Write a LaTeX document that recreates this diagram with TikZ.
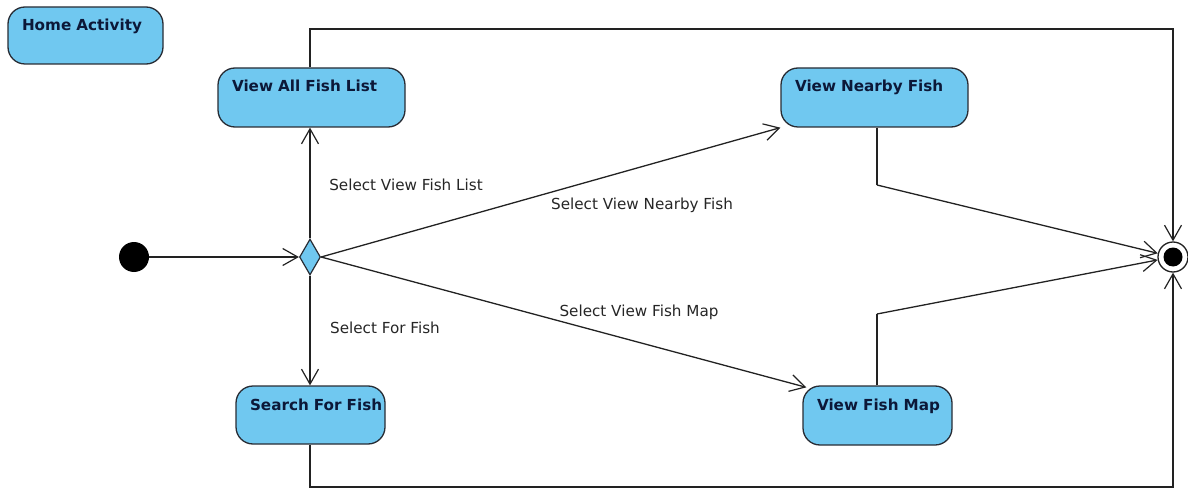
\documentclass[tikz,border=0pt]{standalone}
\usepackage{fontspec}
\setmainfont{DejaVu Sans}
\usetikzlibrary{shapes.geometric,arrows.meta}
\definecolor{actfill}{RGB}{112,200,240}
\definecolor{actline}{RGB}{40,44,52}
\definecolor{acttext}{RGB}{12,24,56}
\definecolor{wire}{RGB}{34,34,34}
\tikzset{
  activity/.style={rectangle, rounded corners=17pt, draw=actline, fill=actfill,
    line width=1.3pt, inner xsep=14pt, inner ysep=0pt, align=left,
    text=acttext, font=\bfseries\fontsize{15.2}{18}\selectfont, text height=24pt},
  flow/.style={draw=wire, line width=1.3pt,
    -{Straight Barb[length=15pt,width=17pt,line width=1.2pt]}},
  wire/.style={draw=wire, line width=1.3pt},
  guard/.style={font=\fontsize{15.2}{17}\selectfont, text=black!85, inner sep=0pt},
}
\begin{document}
\begin{tikzpicture}[x=1pt,y=-1pt]
\useasboundingbox (0,0) rectangle (1188,489);

% activities
\node[activity, text width=127pt, minimum height=57pt, text depth=33pt] (home)   at (85.5,35.5) {\mbox{Home Activity}};
\node[activity, text width=159pt, minimum height=59pt, text depth=35pt] (viewall) at (311.5,97.5) {\mbox{View All Fish List}};
\node[activity, text width=159pt, minimum height=59pt, text depth=35pt] (nearby)  at (874.5,97.5) {\mbox{View Nearby Fish}};
\node[activity, text width=121pt, minimum height=58pt, text depth=34pt] (search)  at (310.5,415) {\mbox{Search For Fish}};
\node[activity, text width=121pt, minimum height=59pt, text depth=35pt] (map)     at (877.5,415.5) {\mbox{View Fish Map}};

% initial, decision and final nodes
\node[circle, fill=black, minimum size=30pt, inner sep=0pt] (start) at (134,257) {};
\node[diamond, draw=actline, fill=actfill, line width=1.2pt, minimum width=21pt,
      minimum height=36pt, inner sep=0pt] (dec) at (310,257) {};
\node[circle, draw=wire, fill=white, line width=1.3pt, minimum size=30pt, inner sep=0pt,
      path picture={\fill[black] (path picture bounding box.center) circle (9.5pt);}] (final) at (1173,257) {};

% routing points
\coordinate (top) at (0,29);
\coordinate (bot) at (0,487);
\coordinate (kneeA) at (877,185);
\coordinate (kneeB) at (877,314);

% control flow
\draw[flow] (start) -- (dec.west);
\draw[flow] (dec.north) -- (dec.north |- viewall.south);
\draw[flow] (dec.south) -- (dec.south |- search.north);
\draw[flow] (dec.east) -- (nearby.south west);
\draw[flow] (dec.east) -- ([xshift=4pt,yshift=-2pt]map.north west);

\draw[wire] (kneeA |- nearby.south) -- (kneeA);
\draw[flow] (kneeA) -- (final);
\draw[wire] (kneeB |- map.north) -- (kneeB);
\draw[flow] (kneeB) -- (final);

\draw[flow] (dec.north |- viewall.north) -- (dec.north |- top) -| (final.north);
\draw[flow] (dec.south |- search.south) -- (dec.south |- bot) -| (final.south);

% guards
\node[guard] (g1) at (406,185) {Select View Fish List};
\node[guard] (g2) at (642,205) {Select View Nearby Fish};
\node[guard] (g3) at (385,328) {Select For Fish};
\node[guard] (g4) at (639,312) {Select View Fish Map};
\end{tikzpicture}
\end{document}
